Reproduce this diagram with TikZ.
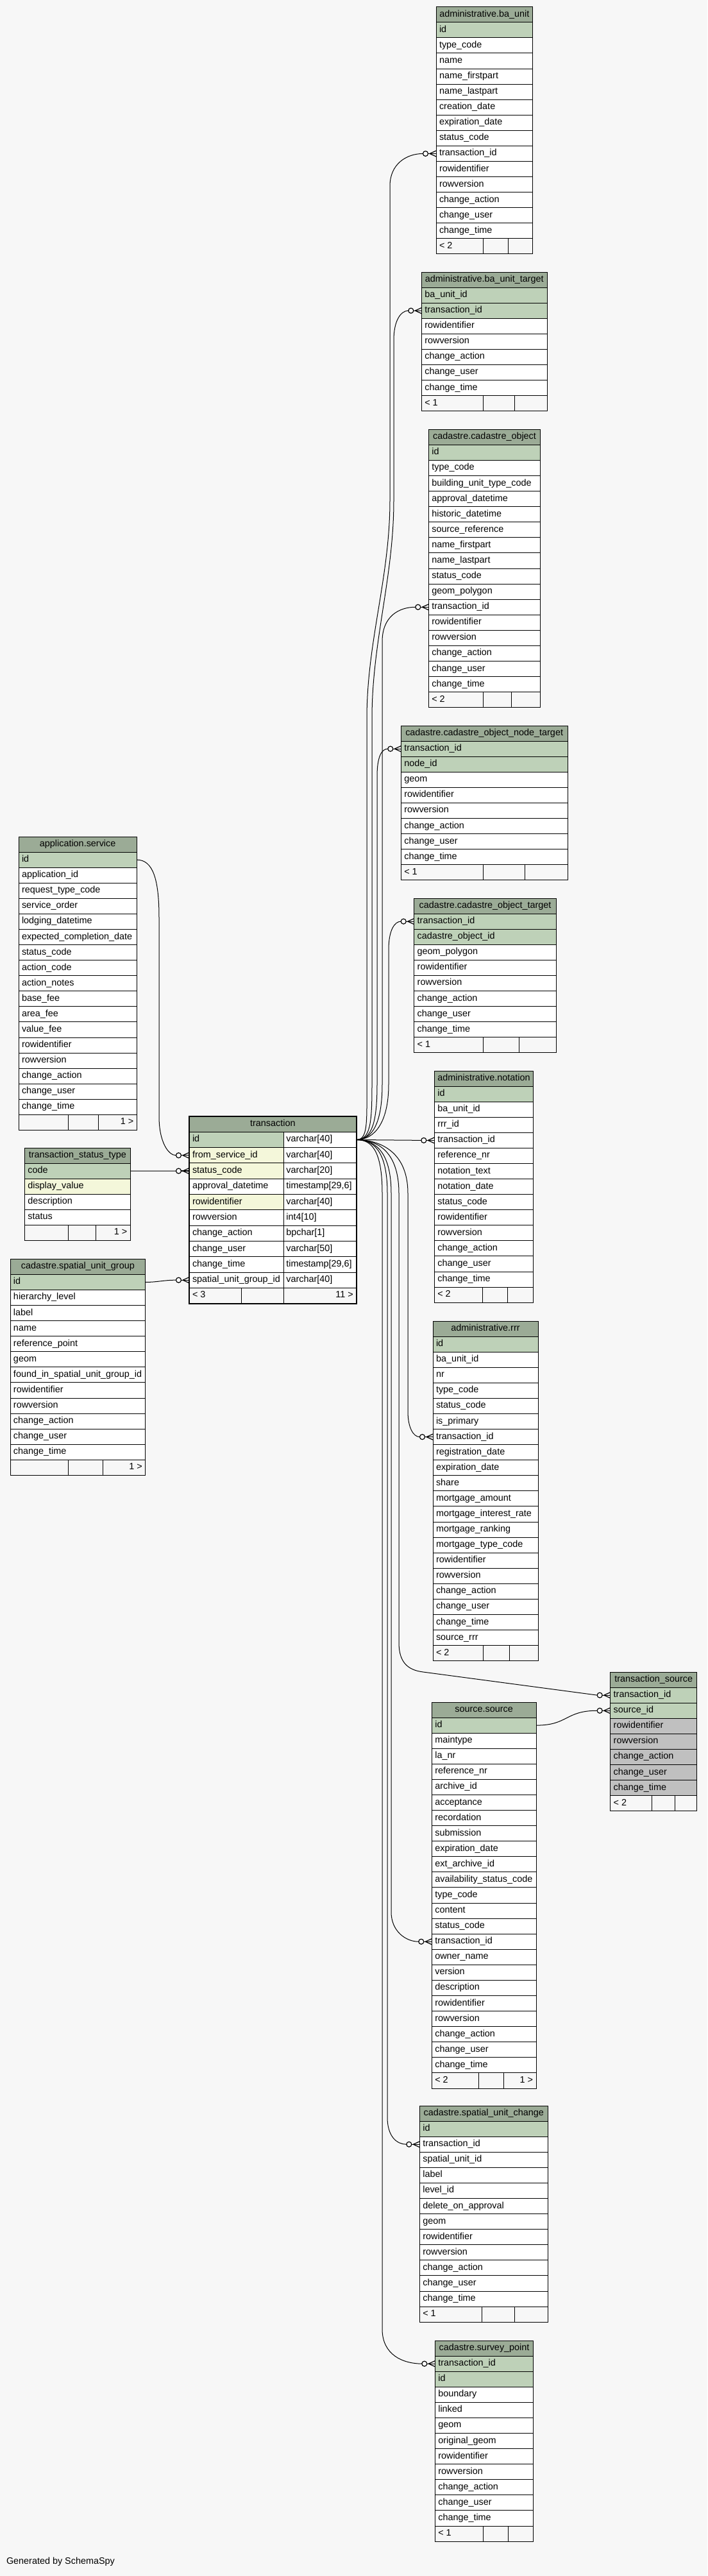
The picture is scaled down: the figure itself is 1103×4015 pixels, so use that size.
\documentclass[tikz,border=0pt]{standalone}
\usepackage{fontspec}
\setmainfont{Liberation Sans}
\usetikzlibrary{calc}
\definecolor{bgc}{HTML}{F7F7F7}
\definecolor{hdrc}{HTML}{9BAB96}
\definecolor{P}{HTML}{BED1B8}
\definecolor{I}{HTML}{F4F7DA}
\definecolor{X}{HTML}{C0C0C0}
\colorlet{W}{white}
\newcommand\tfont{\fontsize{10.8}{12}\selectfont}
\def\R{24.08}
\def\RT{24.3}
\tikzset{
 box/.style={rectangle, draw=black, line width=0.75pt, inner sep=0pt, outer sep=0pt, minimum height=18.06pt},
 txt/.style={inner sep=0pt, outer sep=0pt, font=\tfont, text height=7.6pt, text depth=2.4pt},
 conn/.style={draw=black, line width=0.75pt},
 crowline/.style={draw=black, line width=0.9pt},
}
\newcommand\tbl[6]{%
 \pgfmathsetmacro\tw{(#3-#2)*0.75}%
 \pgfmathsetmacro\cx{(#2+#3)/2}%
 \node[box,fill=hdrc,minimum width=\tw pt] (#1-0) at (\cx,{#4+\R*0.5}) {};
 \node[txt] (#1-0-l) at (#1-0.center) {#5};
 \foreach \cst/\ctx [count=\ci] in {#6} {%
   \node[box,fill=\cst,minimum width=\tw pt] (#1-\ci) at (\cx,{#4+\R*(\ci+0.5)}) {};
   \node[txt,anchor=west] (#1-\ci-l) at ($(#1-\ci.west)+(5,0)$) {\ctx};
   \xdef\lastrow{\ci}%
 }%
}
\newcommand\tfoot[8]{%
 \pgfmathsetmacro\yc{#6+\R*(\lastrow+1.5)}%
 \pgfmathsetmacro\wa{(#3-#2)*0.75}\pgfmathsetmacro\wb{(#4-#3)*0.75}\pgfmathsetmacro\wc{(#5-#4)*0.75}%
 \node[box,fill=bgc,minimum width=\wa pt] (#1-fa) at ({(#2+#3)/2},\yc) {};
 \node[box,fill=bgc,minimum width=\wb pt] (#1-fb) at ({(#3+#4)/2},\yc) {};
 \node[box,fill=bgc,minimum width=\wc pt] (#1-fc) at ({(#4+#5)/2},\yc) {};
 \node[txt,anchor=west] (#1-fa-l) at ($(#1-fa.west)+(5,0)$) {#7};
 \node[txt,anchor=east] (#1-fc-l) at ($(#1-fc.east)+(-5,0)$) {#8};
}
\newcommand\zmany[1]{%
 \draw[crowline] ($(#1.west)+(-12.5,0)$) -- (#1.west);
 \draw[crowline] ($(#1.west)+(-10,0)$) -- ($(#1.west)+(0,-4.5)$);
 \draw[crowline] ($(#1.west)+(-10,0)$) -- ($(#1.west)+(0,4.5)$);
 \draw[crowline,fill=white] ($(#1.west)+(-16.5,0)$) circle[radius=3pt];
}
\begin{document}
\begin{tikzpicture}[x=0.75pt,y=-0.75pt]
\fill[bgc] (0,0) rectangle (1103,4015);
\useasboundingbox (0,0) rectangle (1103,4015);

% ---------- tables ----------
\tbl{bu}{680}{830.7}{10.7}{administrative.ba\_unit}{P/id,W/type\_code,W/name,W/name\_firstpart,W/name\_lastpart,W/creation\_date,W/expiration\_date,W/status\_code,W/transaction\_id,W/rowidentifier,W/rowversion,W/change\_action,W/change\_user,W/change\_time}
\tfoot{bu}{680}{753.3}{792}{830.7}{10.7}{< 2}{}

\tbl{but}{657.3}{853.3}{424}{administrative.ba\_unit\_target}{P/ba\_unit\_id,P/transaction\_id,W/rowidentifier,W/rowversion,W/change\_action,W/change\_user,W/change\_time}
\tfoot{but}{657.3}{753.3}{802.7}{853.3}{424}{< 1}{}

\tbl{co}{668.3}{842.7}{669.3}{cadastre.cadastre\_object}{P/id,W/type\_code,W/building\_unit\_type\_code,W/approval\_datetime,W/historic\_datetime,W/source\_reference,W/name\_firstpart,W/name\_lastpart,W/status\_code,W/geom\_polygon,W/transaction\_id,W/rowidentifier,W/rowversion,W/change\_action,W/change\_user,W/change\_time}
\tfoot{co}{668.3}{753.3}{797.3}{842.7}{669.3}{< 2}{}

\tbl{cnt}{625.3}{885}{1131}{cadastre.cadastre\_object\_node\_target}{P/transaction\_id,P/node\_id,W/geom,W/rowidentifier,W/rowversion,W/change\_action,W/change\_user,W/change\_time}
\tfoot{cnt}{625.3}{753}{818.3}{885}{1131}{< 1}{}

\tbl{cot}{645.7}{867.3}{1400}{cadastre.cadastre\_object\_target}{P/transaction\_id,P/cadastre\_object\_id,W/geom\_polygon,W/rowidentifier,W/rowversion,W/change\_action,W/change\_user,W/change\_time}
\tfoot{cot}{645.7}{753.7}{809}{867.3}{1400}{< 1}{}

\tbl{no}{677.3}{831.7}{1669}{administrative.notation}{P/id,W/ba\_unit\_id,W/rrr\_id,W/transaction\_id,W/reference\_nr,W/notation\_text,W/notation\_date,W/status\_code,W/rowidentifier,W/rowversion,W/change\_action,W/change\_user,W/change\_time}
\tfoot{no}{677.3}{752.3}{791.7}{831.7}{1669}{< 2}{}

\tbl{as}{29}{213.3}{1304}{application.service}{P/id,W/application\_id,W/request\_type\_code,W/service\_order,W/lodging\_datetime,W/expected\_completion\_date,W/status\_code,W/action\_code,W/action\_notes,W/base\_fee,W/area\_fee,W/value\_fee,W/rowidentifier,W/rowversion,W/change\_action,W/change\_user,W/change\_time}
\tfoot{as}{29}{106.7}{153.3}{213.3}{1304}{}{1 >}

\tbl{tst}{38.3}{203.3}{1789}{transaction\_status\_type}{P/code,I/display\_value,W/description,W/status}
\tfoot{tst}{38.3}{106.7}{149.3}{203.3}{1789}{}{1 >}

\tbl{sug}{16}{226.7}{1962.3}{cadastre.spatial\_unit\_group}{P/id,W/hierarchy\_level,W/label,W/name,W/reference\_point,W/geom,W/found\_in\_spatial\_unit\_group\_id,W/rowidentifier,W/rowversion,W/change\_action,W/change\_user,W/change\_time}
\tfoot{sug}{16}{106.7}{160}{226.7}{1962.3}{}{1 >}

\tbl{rrr}{675}{839}{2059}{administrative.rrr}{P/id,W/ba\_unit\_id,W/nr,W/type\_code,W/status\_code,W/is\_primary,W/transaction\_id,W/registration\_date,W/expiration\_date,W/share,W/mortgage\_amount,W/mortgage\_interest\_rate,W/mortgage\_ranking,W/mortgage\_type\_code,W/rowidentifier,W/rowversion,W/change\_action,W/change\_user,W/change\_time,W/source\_rrr}
\tfoot{rrr}{675}{753.3}{794.3}{839}{2059}{< 2}{}

\tbl{ts}{951.7}{1086.7}{2606}{transaction\_source}{P/transaction\_id,P/source\_id,X/rowidentifier,X/rowversion,X/change\_action,X/change\_user,X/change\_time}
\tfoot{ts}{951.7}{1016.7}{1052}{1086.7}{2606}{< 2}{}

\tbl{so}{673.3}{836}{2653}{source.source}{P/id,W/maintype,W/la\_nr,W/reference\_nr,W/archive\_id,W/acceptance,W/recordation,W/submission,W/expiration\_date,W/ext\_archive\_id,W/availability\_status\_code,W/type\_code,W/content,W/status\_code,W/transaction\_id,W/owner\_name,W/version,W/description,W/rowidentifier,W/rowversion,W/change\_action,W/change\_user,W/change\_time}
\tfoot{so}{673.3}{746}{785.3}{836}{2653}{< 2}{1 >}

\tbl{suc}{654.3}{854.3}{3282}{cadastre.spatial\_unit\_change}{P/id,W/transaction\_id,W/spatial\_unit\_id,W/label,W/level\_id,W/delete\_on\_approval,W/geom,W/rowidentifier,W/rowversion,W/change\_action,W/change\_user,W/change\_time}
\tfoot{suc}{654.3}{751.7}{802.7}{854.3}{3282}{< 1}{}

\tbl{sp}{678.3}{831.7}{3648}{cadastre.survey\_point}{P/transaction\_id,P/id,W/boundary,W/linked,W/geom,W/original\_geom,W/rowidentifier,W/rowversion,W/change\_action,W/change\_user,W/change\_time}
\tfoot{sp}{678.3}{753.3}{792}{831.7}{3648}{< 1}{}

% ---------- transaction ----------
\node[box,fill=hdrc,minimum width=195.525pt,minimum height=18.225pt] (tr-0) at (425.35,1752.15) {};
\node[txt] (tr-0-l) at (tr-0.center) {transaction};
\foreach \cst/\ca/\cb [count=\ci] in {P/id/varchar[40],I/from\_service\_id/varchar[40],I/status\_code/varchar[20],W/approval\_datetime/{timestamp[29,6]},I/rowidentifier/varchar[40],W/rowversion/int4[10],W/change\_action/bpchar[1],W/change\_user/varchar[50],W/change\_time/{timestamp[29,6]},W/spatial\_unit\_group\_id/varchar[40]} {
  \node[box,fill=\cst,minimum width=110.475pt,minimum height=18.225pt] (tr-\ci) at (368.65,{1740+\RT*(\ci+0.5)}) {};
  \node[box,fill=white,minimum width=85.05pt,minimum height=18.225pt] (tr-\ci-t) at (499,{1740+\RT*(\ci+0.5)}) {};
  \node[txt,anchor=west] (tr-\ci-a) at ($(tr-\ci.west)+(5,0)$) {\ca};
  \node[txt,anchor=west] (tr-\ci-b) at ($(tr-\ci-t.west)+(4,0)$) {\cb};
}
\node[box,fill=bgc,minimum width=60.75pt,minimum height=18.225pt] (tr-fa) at (335.5,2019.45) {};
\node[box,fill=bgc,minimum width=49.725pt,minimum height=18.225pt] (tr-fb) at (409.15,2019.45) {};
\node[box,fill=bgc,minimum width=85.05pt,minimum height=18.225pt] (tr-fc) at (499,2019.45) {};
\node[txt,anchor=west] (tr-fa-l) at ($(tr-fa.west)+(5,0)$) {< 3};
\node[txt,anchor=east] (tr-fc-l) at ($(tr-fc.east)+(-5,0)$) {11 >};
\draw[line width=1.6pt] (tr-0.north west) rectangle (tr-fc.south east);

% ---------- connectors from transaction.id ----------
\draw[conn] (tr-1-t.east) .. controls +(18,0) and +(0,60) .. (572,1690) -- (572,1120) .. controls (572,1000) and (608,900) .. (608,780) -- (608,290) .. controls (608,255) and +(-25,0) .. ($(bu-9.west)+(-20.5,0)$);
\draw[conn] (tr-1-t.east) .. controls +(22,0) and +(0,60) .. (580,1690) -- (580,1120) .. controls (580,1000) and (614,900) .. (614,780) -- (614,530) .. controls (614,500) and +(-12,0) .. ($(but-2.west)+(-20.5,0)$);
\draw[conn] (tr-1-t.east) .. controls +(25,0) and +(0,60) .. (596,1690) -- (596,1000) .. controls +(0,-40) and +(-25,0) .. ($(co-11.west)+(-20.5,0)$);
\draw[conn] (tr-1-t.east) .. controls +(24,0) and +(0,60) .. (588,1690) -- (588,1210) .. controls +(0,-30) and +(-10,0) .. ($(cnt-1.west)+(-20.5,0)$);
\draw[conn] (tr-1-t.east) .. controls +(28,0) and +(0,60) .. (606,1690) -- (606,1480) .. controls +(0,-30) and +(-10,0) .. ($(cot-1.west)+(-20.5,0)$);
\draw[conn] (tr-1-t.east) -- ($(no-4.west)+(-20.5,0)$);
\draw[conn] (tr-1-t.east) .. controls +(30,0) and +(0,-70) .. (636,1860) -- (636,2200) .. controls +(0,25) and +(-10,0) .. ($(rrr-7.west)+(-20.5,0)$);
\draw[conn] (tr-1-t.east) .. controls +(28,0) and +(0,-70) .. (622,1860) -- (622,2560) .. controls (622,2590) and (635,2603) .. (660,2606) -- ($(ts-1.west)+(-20.5,0)$);
\draw[conn] (tr-1-t.east) .. controls +(25,0) and +(0,-70) .. (610,1860) -- (610,2980) .. controls +(0,30) and +(-20,0) .. ($(so-15.west)+(-20.5,0)$);
\draw[conn] (tr-1-t.east) .. controls +(24,0) and +(0,-70) .. (604,1860) -- (604,3300) .. controls +(0,30) and +(-15,0) .. ($(suc-2.west)+(-20.5,0)$);
\draw[conn] (tr-1-t.east) .. controls +(22,0) and +(0,-70) .. (596,1860) -- (596,3630) .. controls +(0,40) and +(-30,0) .. ($(sp-1.west)+(-20.5,0)$);

% ---------- connectors into transaction ----------
\draw[conn] (as-1.east) .. controls +(25,0) and +(0,-60) .. (248,1430) -- (248,1740) .. controls +(0,40) and +(-12,0) .. ($(tr-2.west)+(-20.5,0)$);
\draw[conn] (tst-1.east) -- ($(tr-3.west)+(-20.5,0)$);
\draw[conn] (sug-1.east) .. controls +(20,0) and +(-20,0) .. ($(tr-10.west)+(-20.5,0)$);
\draw[conn] (so-1.east) .. controls +(50,0) and +(-50,0) .. ($(ts-2.west)+(-20.5,0)$);

% ---------- crow's feet ----------
\zmany{bu-9}\zmany{but-2}\zmany{co-11}\zmany{cnt-1}\zmany{cot-1}\zmany{no-4}
\zmany{rrr-7}\zmany{ts-1}\zmany{so-15}\zmany{suc-2}\zmany{sp-1}
\zmany{tr-2}\zmany{tr-3}\zmany{tr-10}\zmany{ts-2}

\node[txt,anchor=west] (gen) at (10,3993) {Generated by SchemaSpy};
\end{tikzpicture}
\end{document}
